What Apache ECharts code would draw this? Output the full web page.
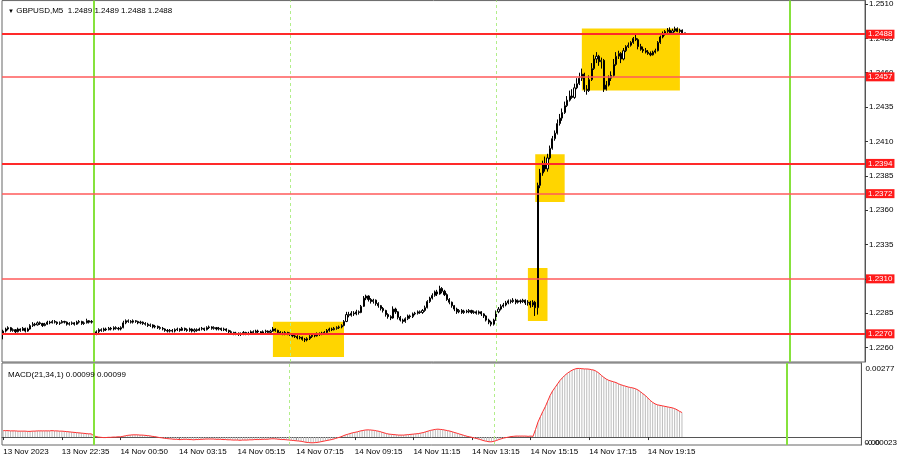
<!DOCTYPE html>
<html><head><meta charset="utf-8">
<script src="https://cdn.jsdelivr.net/npm/echarts@6/dist/echarts.min.js"></script>
<style>html,body{margin:0;padding:0;background:#fff}#c{width:900px;height:460px}</style>
</head><body><div id="c"></div>
<script>
const tickLabels = ['13 Nov 2023','13 Nov 22:35','14 Nov 00:50','14 Nov 03:15','14 Nov 05:15','14 Nov 07:15','14 Nov 09:15','14 Nov 11:15','14 Nov 13:15','14 Nov 15:15','14 Nov 17:15','14 Nov 19:15'];
const barsPerTick = 24;
const totalSlots = 352;

const opens = [
1.22700,1.22720,1.22735,1.22745,1.22725,1.22730,1.22715,1.22735,1.22725,1.22740,
1.22720,1.22735,1.22760,1.22770,1.22765,1.22780,1.22775,1.22760,1.22770,1.22785,
1.22780,1.22790,1.22785,1.22775,1.22780,1.22790,1.22785,1.22770,1.22775,1.22780,
1.22770,1.22785,1.22790,1.22775,1.22780,1.22795,1.22785,1.22790,1.22700,1.22715,
1.22730,1.22725,1.22735,1.22730,1.22740,1.22735,1.22745,1.22740,1.22735,1.22745,
1.22780,1.22795,1.22790,1.22785,1.22795,1.22790,1.22780,1.22785,1.22775,1.22770,
1.22760,1.22765,1.22750,1.22755,1.22745,1.22740,1.22735,1.22725,1.22720,1.22725,
1.22720,1.22730,1.22735,1.22725,1.22740,1.22730,1.22725,1.22735,1.22720,1.22730,
1.22725,1.22735,1.22740,1.22730,1.22745,1.22750,1.22740,1.22745,1.22735,1.22740,
1.22730,1.22735,1.22725,1.22715,1.22710,1.22700,1.22705,1.22695,1.22700,1.22710,
1.22700,1.22705,1.22715,1.22710,1.22720,1.22715,1.22705,1.22715,1.22720,1.22710,
1.22720,1.22735,1.22725,1.22710,1.22705,1.22700,1.22710,1.22700,1.22695,1.22685,
1.22680,1.22670,1.22675,1.22660,1.22655,1.22665,1.22680,1.22690,1.22685,1.22700,
1.22695,1.22705,1.22710,1.22725,1.22735,1.22730,1.22740,1.22745,1.22750,1.22760,
1.22790,1.22840,1.22835,1.22850,1.22845,1.22860,1.22855,1.22900,1.22960,1.22975,
1.22950,1.22935,1.22945,1.22920,1.22905,1.22885,1.22870,1.22840,1.22825,1.22815,
1.22880,1.22860,1.22820,1.22800,1.22790,1.22810,1.22830,1.22825,1.22845,1.22850,
1.22860,1.22855,1.22870,1.22890,1.22935,1.22960,1.22980,1.23005,1.22990,1.23030,
1.23010,1.22985,1.22950,1.22930,1.22905,1.22880,1.22860,1.22870,1.22855,1.22865,
1.22860,1.22870,1.22855,1.22860,1.22850,1.22860,1.22845,1.22830,1.22800,1.22785,
1.22770,1.22800,1.22860,1.22880,1.22900,1.22910,1.22925,1.22940,1.22935,1.22945,
1.22930,1.22940,1.22935,1.22945,1.22925,1.22930,1.22910,1.22930,1.22890,1.23780,
1.23870,1.23930,1.23900,1.23980,1.24050,1.24120,1.24160,1.24230,1.24270,1.24310,
1.24360,1.24400,1.24430,1.24420,1.24490,1.24520,1.24560,1.24590,1.24480,1.24470,
1.24550,1.24630,1.24700,1.24720,1.24680,1.24690,1.24480,1.24510,1.24560,1.24580,
1.24660,1.24720,1.24740,1.24700,1.24760,1.24790,1.24800,1.24820,1.24850,1.24840,
1.24790,1.24770,1.24760,1.24750,1.24740,1.24730,1.24750,1.24760,1.24820,1.24860,
1.24880,1.24900,1.24910,1.24890,1.24905,1.24920,1.24900,1.24910,1.24890];

const closes = [
1.22720,1.22735,1.22745,1.22725,1.22730,1.22715,1.22735,1.22725,1.22740,1.22720,
1.22735,1.22760,1.22770,1.22765,1.22780,1.22775,1.22760,1.22770,1.22785,1.22780,
1.22790,1.22785,1.22775,1.22780,1.22790,1.22785,1.22770,1.22775,1.22780,1.22770,
1.22785,1.22790,1.22775,1.22780,1.22795,1.22785,1.22790,1.22700,1.22715,1.22730,
1.22725,1.22735,1.22730,1.22740,1.22735,1.22745,1.22740,1.22735,1.22745,1.22780,
1.22795,1.22790,1.22785,1.22795,1.22790,1.22780,1.22785,1.22775,1.22770,1.22760,
1.22765,1.22750,1.22755,1.22745,1.22740,1.22735,1.22725,1.22720,1.22725,1.22720,
1.22730,1.22735,1.22725,1.22740,1.22730,1.22725,1.22735,1.22720,1.22730,1.22725,
1.22735,1.22740,1.22730,1.22745,1.22750,1.22740,1.22745,1.22735,1.22740,1.22730,
1.22735,1.22725,1.22715,1.22710,1.22700,1.22705,1.22695,1.22700,1.22710,1.22700,
1.22705,1.22715,1.22710,1.22720,1.22715,1.22705,1.22715,1.22720,1.22710,1.22720,
1.22735,1.22725,1.22710,1.22705,1.22700,1.22710,1.22700,1.22695,1.22685,1.22680,
1.22670,1.22675,1.22660,1.22655,1.22665,1.22680,1.22690,1.22685,1.22700,1.22695,
1.22705,1.22710,1.22725,1.22735,1.22730,1.22740,1.22745,1.22750,1.22760,1.22790,
1.22840,1.22835,1.22850,1.22845,1.22860,1.22855,1.22900,1.22960,1.22975,1.22950,
1.22935,1.22945,1.22920,1.22905,1.22885,1.22870,1.22840,1.22825,1.22815,1.22880,
1.22860,1.22820,1.22800,1.22790,1.22810,1.22830,1.22825,1.22845,1.22850,1.22860,
1.22855,1.22870,1.22890,1.22935,1.22960,1.22980,1.23005,1.22990,1.23030,1.23010,
1.22985,1.22950,1.22930,1.22905,1.22880,1.22860,1.22870,1.22855,1.22865,1.22860,
1.22870,1.22855,1.22860,1.22850,1.22860,1.22845,1.22830,1.22800,1.22785,1.22770,
1.22800,1.22860,1.22880,1.22900,1.22910,1.22925,1.22940,1.22935,1.22945,1.22930,
1.22940,1.22935,1.22945,1.22925,1.22930,1.22910,1.22930,1.22890,1.23780,1.23870,
1.23930,1.23900,1.23980,1.24050,1.24120,1.24160,1.24230,1.24270,1.24310,1.24360,
1.24400,1.24430,1.24420,1.24490,1.24520,1.24560,1.24590,1.24480,1.24470,1.24550,
1.24630,1.24700,1.24720,1.24680,1.24690,1.24480,1.24510,1.24560,1.24580,1.24660,
1.24720,1.24740,1.24700,1.24760,1.24790,1.24800,1.24820,1.24850,1.24840,1.24790,
1.24770,1.24760,1.24750,1.24740,1.24730,1.24750,1.24760,1.24820,1.24860,1.24880,
1.24900,1.24910,1.24890,1.24905,1.24920,1.24900,1.24910,1.24890,1.24880];

const lows = [
1.22660,1.22710,1.22725,1.22715,1.22715,1.22705,1.22710,1.22715,1.22720,1.22710,
1.22715,1.22730,1.22750,1.22755,1.22760,1.22765,1.22750,1.22755,1.22765,1.22770,
1.22775,1.22775,1.22765,1.22765,1.22775,1.22775,1.22760,1.22760,1.22765,1.22760,
1.22765,1.22775,1.22765,1.22765,1.22775,1.22775,1.22775,1.22670,1.22690,1.22705,
1.22715,1.22715,1.22720,1.22725,1.22725,1.22725,1.22730,1.22725,1.22725,1.22740,
1.22770,1.22780,1.22775,1.22775,1.22780,1.22770,1.22770,1.22765,1.22760,1.22750,
1.22750,1.22740,1.22740,1.22735,1.22730,1.22725,1.22715,1.22710,1.22710,1.22710,
1.22710,1.22720,1.22715,1.22720,1.22720,1.22715,1.22715,1.22710,1.22710,1.22715,
1.22720,1.22725,1.22720,1.22725,1.22735,1.22730,1.22730,1.22725,1.22725,1.22720,
1.22720,1.22715,1.22705,1.22700,1.22690,1.22690,1.22685,1.22685,1.22690,1.22690,
1.22690,1.22700,1.22700,1.22700,1.22705,1.22695,1.22695,1.22705,1.22700,1.22705,
1.22715,1.22715,1.22700,1.22695,1.22690,1.22690,1.22690,1.22685,1.22675,1.22670,
1.22660,1.22660,1.22650,1.22640,1.22645,1.22655,1.22670,1.22675,1.22680,1.22685,
1.22690,1.22695,1.22705,1.22715,1.22720,1.22725,1.22730,1.22735,1.22740,1.22755,
1.22785,1.22820,1.22825,1.22830,1.22835,1.22840,1.22850,1.22895,1.22945,1.22935,
1.22920,1.22920,1.22905,1.22890,1.22870,1.22855,1.22825,1.22810,1.22800,1.22810,
1.22845,1.22805,1.22790,1.22775,1.22780,1.22800,1.22810,1.22815,1.22835,1.22840,
1.22845,1.22845,1.22860,1.22885,1.22925,1.22950,1.22970,1.22975,1.22985,1.22995,
1.22975,1.22940,1.22915,1.22890,1.22865,1.22845,1.22850,1.22845,1.22845,1.22850,
1.22850,1.22845,1.22845,1.22840,1.22840,1.22830,1.22815,1.22790,1.22770,1.22755,
1.22760,1.22795,1.22850,1.22870,1.22890,1.22900,1.22915,1.22920,1.22925,1.22915,
1.22920,1.22920,1.22925,1.22910,1.22905,1.22890,1.22895,1.22830,1.22840,1.23760,
1.23850,1.23880,1.23880,1.23970,1.24040,1.24105,1.24150,1.24215,1.24250,1.24300,
1.24350,1.24390,1.24410,1.24410,1.24480,1.24510,1.24540,1.24460,1.24440,1.24460,
1.24540,1.24620,1.24670,1.24650,1.24630,1.24460,1.24470,1.24500,1.24540,1.24570,
1.24650,1.24700,1.24670,1.24690,1.24750,1.24780,1.24790,1.24810,1.24830,1.24770,
1.24760,1.24745,1.24740,1.24730,1.24720,1.24725,1.24740,1.24755,1.24810,1.24850,
1.24870,1.24890,1.24880,1.24885,1.24895,1.24895,1.24890,1.24880,1.24880];

const highs = [
1.22730,1.22745,1.22755,1.22750,1.22740,1.22735,1.22745,1.22740,1.22750,1.22745,
1.22745,1.22770,1.22785,1.22780,1.22790,1.22790,1.22780,1.22780,1.22795,1.22795,
1.22800,1.22800,1.22790,1.22790,1.22800,1.22795,1.22790,1.22785,1.22790,1.22785,
1.22795,1.22800,1.22795,1.22790,1.22810,1.22800,1.22800,1.22795,1.22725,1.22740,
1.22740,1.22745,1.22745,1.22750,1.22750,1.22755,1.22755,1.22750,1.22755,1.22795,
1.22805,1.22805,1.22800,1.22805,1.22800,1.22795,1.22795,1.22790,1.22785,1.22780,
1.22775,1.22770,1.22765,1.22760,1.22755,1.22750,1.22740,1.22735,1.22735,1.22735,
1.22740,1.22745,1.22740,1.22750,1.22745,1.22740,1.22745,1.22740,1.22740,1.22740,
1.22745,1.22750,1.22745,1.22755,1.22760,1.22755,1.22755,1.22750,1.22750,1.22745,
1.22745,1.22740,1.22730,1.22725,1.22715,1.22715,1.22710,1.22710,1.22720,1.22715,
1.22715,1.22725,1.22725,1.22730,1.22730,1.22720,1.22725,1.22730,1.22725,1.22730,
1.22750,1.22740,1.22730,1.22720,1.22715,1.22720,1.22715,1.22710,1.22700,1.22695,
1.22690,1.22685,1.22680,1.22670,1.22675,1.22690,1.22700,1.22700,1.22710,1.22710,
1.22715,1.22720,1.22735,1.22745,1.22745,1.22750,1.22755,1.22760,1.22770,1.22800,
1.22860,1.22860,1.22865,1.22865,1.22875,1.22870,1.22910,1.22975,1.22985,1.22980,
1.22960,1.22955,1.22950,1.22930,1.22910,1.22895,1.22875,1.22850,1.22835,1.22900,
1.22890,1.22865,1.22830,1.22810,1.22820,1.22840,1.22840,1.22855,1.22860,1.22870,
1.22870,1.22880,1.22905,1.22945,1.22970,1.22995,1.23015,1.23020,1.23050,1.23040,
1.23020,1.22995,1.22960,1.22935,1.22910,1.22890,1.22880,1.22880,1.22875,1.22875,
1.22880,1.22875,1.22870,1.22870,1.22870,1.22865,1.22850,1.22835,1.22810,1.22795,
1.22810,1.22870,1.22895,1.22915,1.22925,1.22940,1.22950,1.22950,1.22960,1.22955,
1.22950,1.22950,1.22955,1.22950,1.22945,1.22940,1.22945,1.22940,1.23800,1.23900,
1.23960,1.23990,1.24010,1.24070,1.24140,1.24180,1.24260,1.24300,1.24340,1.24390,
1.24430,1.24470,1.24480,1.24520,1.24560,1.24600,1.24630,1.24600,1.24510,1.24580,
1.24670,1.24730,1.24750,1.24730,1.24710,1.24700,1.24540,1.24580,1.24610,1.24700,
1.24750,1.24760,1.24750,1.24780,1.24800,1.24820,1.24830,1.24860,1.24880,1.24850,
1.24810,1.24790,1.24780,1.24765,1.24755,1.24760,1.24775,1.24830,1.24870,1.24900,
1.24910,1.24925,1.24930,1.24920,1.24935,1.24930,1.24920,1.24915,1.24890];

const macd = [
0.00026,0.00026,0.00026,0.00025,0.00025,0.00025,0.00024,0.00024,0.00024,0.00024,0.00023,0.00023,0.00024,
0.00024,0.00025,0.00025,0.00025,0.00025,0.00025,0.00025,0.00026,0.00025,0.00025,0.00024,0.00024,
0.00023,0.00022,0.00021,0.00020,0.00019,0.00018,0.00017,0.00016,0.00015,0.00014,0.00013,0.00013,
0.00006,0.00002,
0.00000,-0.00001,-0.00002,-0.00002,-0.00001,-0.00001,0.00000,0.00000,0.00001,0.00001,
0.00003,0.00005,0.00007,0.00008,0.00009,0.00009,0.00009,0.00008,0.00008,0.00007,0.00006,0.00005,0.00003,0.00002,
0.00000,-0.00002,-0.00003,-0.00005,-0.00006,-0.00007,-0.00008,
-0.00009,-0.00009,-0.00010,-0.00010,-0.00009,-0.00009,-0.00010,-0.00010,-0.00011,-0.00010,
-0.00010,-0.00009,-0.00009,-0.00008,-0.00008,-0.00008,-0.00008,-0.00009,-0.00009,-0.00009,
-0.00010,-0.00010,-0.00011,-0.00011,-0.00012,-0.00012,-0.00012,-0.00013,-0.00012,-0.00012,
-0.00012,-0.00011,-0.00011,-0.00010,-0.00010,-0.00010,-0.00009,-0.00009,-0.00009,-0.00008,
-0.00007,-0.00007,-0.00008,-0.00009,-0.00010,-0.00010,-0.00011,-0.00012,-0.00013,-0.00014,-0.00015,-0.00016,
-0.00017,-0.00019,-0.00021,-0.00022,-0.00023,-0.00023,-0.00022,-0.00021,-0.00019,-0.00017,-0.00015,-0.00013,-0.00011,
-0.00009,-0.00006,-0.00003,0.00000,0.00004,0.00008,0.00011,0.00014,0.00017,0.00019,0.00021,0.00024,
0.00026,0.00028,0.00029,0.00029,0.00028,0.00027,0.00025,0.00023,
0.00020,0.00017,0.00014,0.00012,0.00011,0.00010,0.00009,0.00008,0.00008,0.00008,0.00009,0.00010,0.00011,
0.00012,0.00013,0.00014,0.00016,0.00018,0.00021,
0.00024,0.00027,0.00029,0.00031,0.00032,0.00031,0.00030,0.00028,0.00026,0.00024,0.00021,
0.00018,0.00015,0.00012,0.00009,0.00006,0.00003,0.00001,-0.00001,-0.00004,-0.00006,-0.00009,-0.00012,-0.00015,
-0.00017,-0.00019,-0.00019,-0.00017,-0.00014,
-0.00010,-0.00007,-0.00004,-0.00002,0.00000,0.00002,
0.00003,0.00004,0.00004,0.00004,0.00004,0.00004,0.00003,0.00004,0.00003,
0.00030,0.00060,0.00082,0.00103,0.00122,0.00145,0.00168,0.00186,0.00200,0.00214,
0.00228,0.00239,0.00249,0.00257,0.00264,0.00270,0.00274,0.00277,0.00277,0.00276,
0.00275,0.00275,0.00274,0.00272,0.00270,0.00265,0.00258,0.00249,0.00241,0.00234,
0.00229,0.00226,0.00223,0.00220,0.00215,0.00211,0.00208,0.00205,0.00202,0.00200,
0.00198,0.00195,0.00190,0.00183,0.00175,0.00168,0.00158,0.00148,0.00140,0.00134,
0.00130,0.00128,0.00126,0.00124,0.00122,0.00120,0.00118,0.00115,0.00110,0.00104,
0.00099];

const priceTicks = [1.2260,1.2285,1.2310,1.2335,1.2360,1.2385,1.2410,1.2435,1.2460,1.2485,1.2510];
const strongLevels = [1.2488,1.2394,1.2270];
const weakLevels = [1.2457,1.2372,1.2310];
const dayLines = [37,321];
const sessionLines = [117,201];
// [fromBar, toBar, topPrice, bottomPrice]
const boxes = [[110,139,1.22787,1.22532],[214,222,1.23179,1.22794],[217,229,1.24006,1.23659],[236,276,1.24922,1.24471]];
const macdTicks = [-0.00023,0.00277];

const categories = [];
for (let i = 0; i < totalSlots; i++) categories.push(String(i));
const candles = opens.map((o, i) => [o, closes[i], lows[i], highs[i]]);

const FONT = 'Liberation Sans';
const GREEN = '#86e23c';
const RED = '#ff2a2a';
const vLines = dayLines.map(v => ({xAxis: v, lineStyle: {color: GREEN, width: 2, type: 'solid'}, label: {show: false}}))
  .concat(sessionLines.map(v => ({xAxis: v, lineStyle: {color: '#b2ee8a', width: 1, type: [3, 3]}, label: {show: false}})));
const hLines = strongLevels.map(v => ({yAxis: v, lineStyle: {color: RED, width: 2, type: 'solid'}}))
  .concat(weakLevels.map(v => ({yAxis: v, lineStyle: {color: '#ff5a5a', width: 1.5, type: 'solid'}})));

const chart = echarts.init(document.getElementById('c'), null, {renderer: 'canvas'});
chart.setOption({
  animation: false,
  backgroundColor: '#ffffff',
  textStyle: {fontFamily: FONT},
  title: [
    {text: '{t|▼} GBPUSD,M5  1.2489 1.2489 1.2488 1.2488', left: 3, top: 2,
     textStyle: {fontFamily: FONT, fontSize: 8, fontWeight: 'normal', color: '#000',
       rich: {t: {fontSize: 6, color: '#000', fontFamily: FONT}}}},
    {text: 'MACD(21,34,1) 0.00099 0.00099', left: 3, top: 366,
     textStyle: {fontFamily: FONT, fontSize: 8, fontWeight: 'normal', color: '#000'}}
  ],
  grid: [
    {left: 2, top: 0, width: 863, height: 362, show: true, borderColor: '#666', borderWidth: 1},
    {left: 2, top: 363, width: 863, height: 82, show: true, borderColor: '#666', borderWidth: 1}
  ],
  xAxis: [
    {type: 'category', gridIndex: 0, data: categories, boundaryGap: true, show: false},
    {type: 'category', gridIndex: 1, data: categories, boundaryGap: true,
     axisLine: {show: true, lineStyle: {color: '#555'}},
     axisTick: {show: true, alignWithLabel: true, length: 3, lineStyle: {color: '#333'},
       interval: (i) => i % barsPerTick === 0 && i / barsPerTick < tickLabels.length},
     axisLabel: {show: true, fontFamily: FONT, fontSize: 8, color: '#000', align: 'left', margin: 3,
       interval: (i) => i % barsPerTick === 0 && i / barsPerTick < tickLabels.length,
       formatter: (v, i) => tickLabels[Math.round(Number(v) / barsPerTick)] || ''},
     splitLine: {show: false}}
  ],
  yAxis: [
    {type: 'value', gridIndex: 0, position: 'right', min: 1.22495, max: 1.25125,
     axisLine: {show: true, lineStyle: {color: '#555'}},
     axisTick: {show: true, length: 3, lineStyle: {color: '#333'}, customValues: priceTicks},
     axisLabel: {fontFamily: FONT, fontSize: 8, color: '#000', margin: 4, customValues: priceTicks,
       formatter: v => Number(v).toFixed(4)},
     splitLine: {show: false}},
    {type: 'value', gridIndex: 1, position: 'right', min: -0.00032, max: 0.00299,
     axisLine: {show: true, lineStyle: {color: '#555'}},
     axisTick: {show: false},
     axisLabel: {fontFamily: FONT, fontSize: 8, color: '#000', margin: 4, customValues: macdTicks,
       formatter: v => Number(v).toFixed(5)},
     splitLine: {show: false}},
    {type: 'value', gridIndex: 1, position: 'right', min: -0.00032, max: 0.00299,
     axisLine: {show: false}, axisTick: {show: false},
     axisLabel: {fontFamily: FONT, fontSize: 8, color: '#000', margin: 3, customValues: [-0.00023],
       formatter: () => '0.00'},
     splitLine: {show: false}}
  ],
  series: [
    {type: 'candlestick', xAxisIndex: 0, yAxisIndex: 0, data: candles, barWidth: 1.6,
     itemStyle: {color: '#ffffff', color0: '#000000', borderColor: '#000000', borderColor0: '#000000', borderWidth: 1},
     markArea: {silent: true, itemStyle: {color: '#ffd500', opacity: 1},
       data: boxes.map(b => [{xAxis: b[0], yAxis: b[2]}, {xAxis: b[1], yAxis: b[3]}])},
     markLine: {silent: true, symbol: ['none', 'none'], animation: false, precision: 5,
       label: {show: false}, data: vLines}},
    {type: 'line', xAxisIndex: 0, yAxisIndex: 0, data: [], silent: true,
     markLine: {silent: true, symbol: ['none', 'none'], animation: false, precision: 5,
       lineStyle: {color: RED, type: 'solid'},
       label: {show: true, position: 'end', distance: 1, formatter: p => Number(p.value).toFixed(4),
         backgroundColor: '#ff1a1a', color: '#fff', fontFamily: FONT, fontSize: 8, padding: [1, 2, 0, 2]},
       data: hLines}},
    {type: 'bar', xAxisIndex: 1, yAxisIndex: 1, data: macd, barWidth: 1,
     itemStyle: {color: '#bcbcbc'}, silent: true},
    {type: 'line', xAxisIndex: 1, yAxisIndex: 1, data: macd, symbol: 'none',
     lineStyle: {color: '#ff3030', width: 1}, silent: true,
     markLine: {silent: true, symbol: ['none', 'none'], animation: false, precision: 5, label: {show: false}, data: vLines}}
  ]
});
</script></body></html>
